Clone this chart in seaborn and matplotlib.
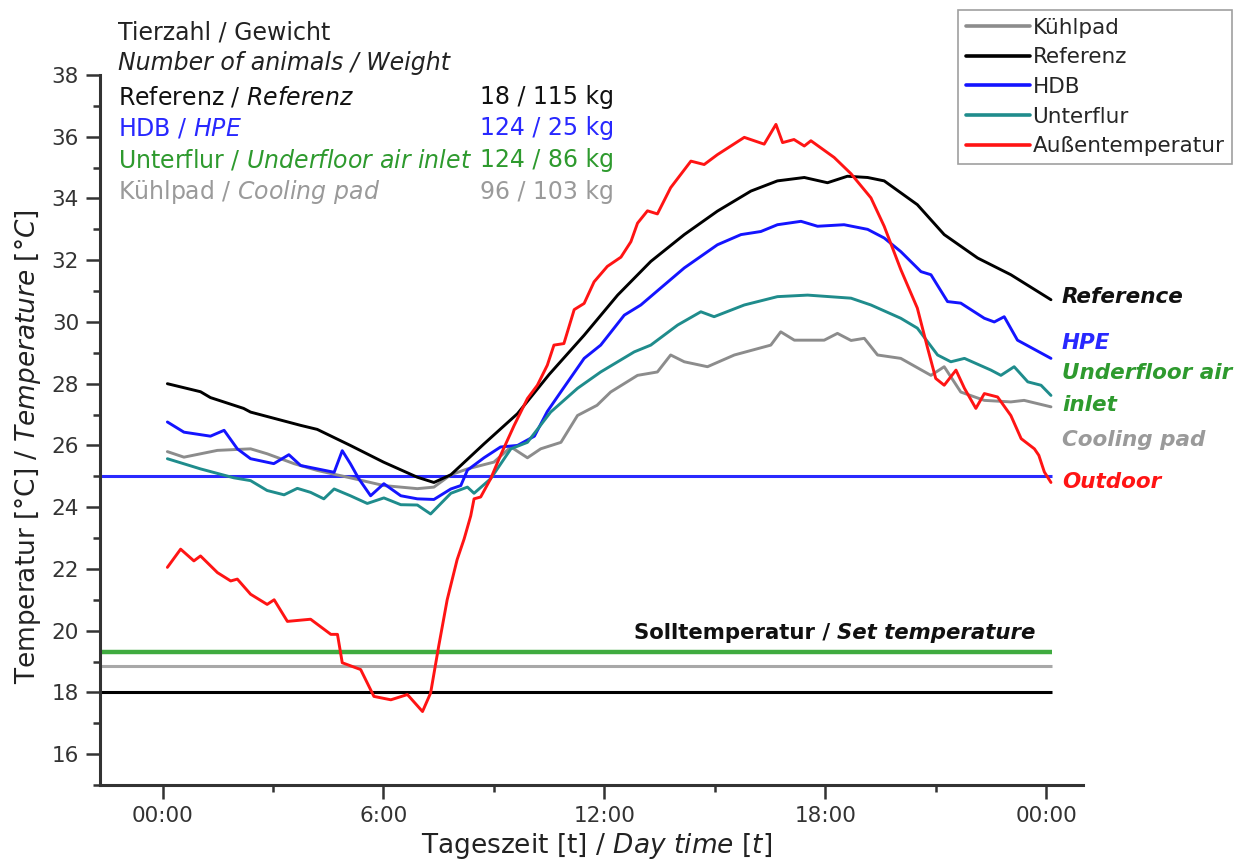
import matplotlib
matplotlib.use("Agg")
import matplotlib.pyplot as plt
from matplotlib.ticker import MultipleLocator, FixedLocator
import seaborn as sns

W, H = 1237, 863

# hours after midnight and stable temperature in degC
kuehlpad_h = [0.13, 0.58, 1.49, 2.39, 2.84, 3.57, 4.2, 5.1, 6.01, 6.92, 7.37, 7.83, 8.28, 9.0,
              9.46, 9.91, 10.27, 10.82, 11.27, 11.8, 12.17, 12.9, 13.44, 13.8, 14.17, 14.8,
              15.53, 16.52, 16.79, 17.16, 17.97, 18.33, 18.7, 19.06, 19.42, 20.05, 20.87,
              21.23, 21.68, 22.32, 23.04, 23.4, 24.13]
kuehlpad_t = [25.8, 25.62, 25.84, 25.89, 25.73, 25.41, 25.19, 24.95, 24.7, 24.6, 24.65, 25.05,
              25.24, 25.46, 25.95, 25.6, 25.89, 26.1, 26.97, 27.3, 27.73, 28.27, 28.38, 28.93,
              28.71, 28.55, 28.93, 29.25, 29.68, 29.41, 29.41, 29.63, 29.4, 29.47, 28.93,
              28.82, 28.27, 28.55, 27.73, 27.46, 27.41, 27.46, 27.25]

referenz_h = [0.13, 1.03, 1.3, 2.2, 2.39, 3.75, 4.2, 5.1, 6.0, 6.92, 7.37, 7.83, 8.73, 9.64,
              10.5, 11.45, 12.36, 13.26, 14.17, 15.07, 15.98, 16.7, 17.43, 18.06, 18.6, 19.15,
              19.6, 20.5, 21.23, 22.14, 23.04, 24.13]
referenz_t = [28.0, 27.74, 27.55, 27.2, 27.08, 26.65, 26.52, 26.0, 25.46, 24.97, 24.8, 25.05,
              26.05, 27.03, 28.3, 29.57, 30.87, 31.96, 32.83, 33.59, 34.24, 34.57, 34.68,
              34.51, 34.72, 34.68, 34.57, 33.8, 32.83, 32.07, 31.53, 30.72]

hdb_h = [0.13, 0.58, 1.3, 1.67, 2.03, 2.39, 3.02, 3.43, 3.75, 4.66, 4.88, 5.1, 5.33, 5.65,
         6.01, 6.47, 6.92, 7.37, 7.83, 8.1, 8.28, 8.73, 9.18, 9.64, 10.1, 10.45, 10.82, 11.45,
         11.9, 12.54, 12.99, 13.53, 14.17, 15.07, 15.71, 16.25, 16.7, 17.34, 17.79, 18.51,
         19.15, 19.6, 20.05, 20.6, 20.87, 21.32, 21.68, 22.32, 22.59, 22.86, 23.22, 24.13]
hdb_t = [26.76, 26.43, 26.3, 26.49, 25.89, 25.57, 25.41, 25.7, 25.35, 25.13, 25.83, 25.41,
         24.92, 24.37, 24.76, 24.37, 24.27, 24.25, 24.59, 24.7, 25.2, 25.6, 25.95, 26.0, 26.3,
         27.1, 27.74, 28.82, 29.25, 30.22, 30.55, 31.1, 31.75, 32.5, 32.83, 32.93, 33.15,
         33.26, 33.1, 33.15, 33.0, 32.72, 32.28, 31.63, 31.53, 30.66, 30.61, 30.12, 30.0,
         30.17, 29.41, 28.82]

unterflur_h = [0.13, 1.03, 1.94, 2.39, 2.84, 3.3, 3.66, 4.02, 4.38, 4.66, 5.1, 5.56, 6.01,
               6.47, 6.92, 7.28, 7.83, 8.28, 8.46, 8.91, 9.46, 9.91, 10.54, 11.27, 11.9, 12.81,
               13.26, 13.99, 14.62, 14.98, 15.8, 16.7, 17.52, 18.7, 19.24, 20.05, 20.5, 21.05,
               21.41, 21.78, 22.5, 22.77, 23.13, 23.5, 23.86, 24.13]
unterflur_t = [25.57, 25.24, 24.95, 24.86, 24.54, 24.4, 24.61, 24.48, 24.27, 24.59, 24.37,
               24.12, 24.3, 24.08, 24.07, 23.78, 24.45, 24.65, 24.45, 24.92, 25.89, 26.1, 27.08,
               27.85, 28.38, 29.03, 29.25, 29.9, 30.33, 30.17, 30.55, 30.82, 30.87, 30.77,
               30.55, 30.12, 29.8, 28.93, 28.71, 28.82, 28.44, 28.27, 28.55, 28.06, 27.95, 27.62]

aussen_h = [0.13, 0.49, 0.85, 1.03, 1.49, 1.85, 2.03, 2.39, 2.84, 3.03, 3.39, 4.02, 4.57,
            4.75, 4.88, 5.38, 5.74, 6.2, 6.65, 7.06, 7.28, 7.5, 7.73, 8.0, 8.19, 8.37, 8.46,
            8.64, 8.91, 9.18, 9.55, 9.91, 10.18, 10.45, 10.63, 10.9, 11.18, 11.45, 11.72,
            12.08, 12.45, 12.72, 12.9, 13.17, 13.44, 13.8, 14.35, 14.71, 15.07, 15.8, 16.34,
            16.66, 16.84, 17.15, 17.43, 17.61, 18.24, 18.7, 19.24, 19.6, 20.05, 20.5, 20.78,
            21.0, 21.23, 21.55, 21.78, 22.09, 22.32, 22.68, 23.04, 23.32, 23.68, 23.8, 23.95,
            24.13]
aussen_t = [22.05, 22.64, 22.26, 22.42, 21.88, 21.61, 21.67, 21.18, 20.85, 21.0, 20.3, 20.37,
            19.88, 19.88, 18.96, 18.74, 17.87, 17.76, 17.93, 17.38, 17.98, 19.5, 21.0, 22.3,
            22.97, 23.72, 24.27, 24.33, 24.92, 25.68, 26.65, 27.52, 27.95, 28.6, 29.25, 29.3,
            30.4, 30.6, 31.3, 31.8, 32.1, 32.6, 33.2, 33.6, 33.5, 34.35, 35.21, 35.1, 35.42,
            35.98, 35.76, 36.4, 35.81, 35.91, 35.7, 35.87, 35.33, 34.8, 34.02, 33.1, 31.7,
            30.45, 29.15, 28.17, 27.95, 28.44, 27.85, 27.2, 27.68, 27.57, 26.97, 26.22, 25.89,
            25.68, 25.14, 24.8]

# set temperatures: HDB, Unterflur, Kuehlpad, Referenz
setpoint_t = [25.0, 19.3, 18.85, 18.0]
setpoint_colors = ["#2a2aff", "#3fab3f", "#a8a8a8", "#000000"]

x_ticks = [0, 6, 12, 18, 24]
x_ticklabels = ["00:00", "6:00", "12:00", "18:00", "00:00"]

GRAY, BLACK, BLUE, TEAL, RED = "#8c8c8c", "#000000", "#1414ff", "#1f8c8c", "#ff1414"
GREEN_TXT, GRAY_TXT, BLUE_TXT = "#2e9a2e", "#9a9a9a", "#2828ff"

sns.set_theme(style="ticks")
plt.rcParams["font.family"] = ["DejaVu Sans"]
plt.rcParams["mathtext.fontset"] = "dejavusans"

fig = plt.figure(figsize=(W / 100, H / 100), dpi=100)
ax = fig.add_axes([100 / W, 1 - 785 / H, 983 / W, 710 / H])

x_left = -1.7
for temp, col in zip(setpoint_t, setpoint_colors):
    lw = 3.2 if col == "#3fab3f" else 2.2
    ax.hlines(temp, x_left, 24.15, color=col, linewidth=lw, zorder=1)

series = [
    (kuehlpad_h, kuehlpad_t, GRAY, "Kühlpad"),
    (referenz_h, referenz_t, BLACK, "Referenz"),
    (hdb_h, hdb_t, BLUE, "HDB"),
    (unterflur_h, unterflur_t, TEAL, "Unterflur"),
    (aussen_h, aussen_t, RED, "Außentemperatur"),
]
for hh, tt, col, lab in series:
    sns.lineplot(x=hh, y=tt, color=col, linewidth=2.1, label=lab, estimator=None, ax=ax)

ax.set_xlim(x_left, 25.0)
ax.set_ylim(15, 38)
ax.set_xticks(x_ticks)
ax.set_xticklabels(x_ticklabels)
ax.set_yticks(range(16, 39, 2))
ax.xaxis.set_minor_locator(FixedLocator([3, 9, 15, 21]))
ax.yaxis.set_minor_locator(MultipleLocator(1))
ax.tick_params(which="major", length=10, width=1.8, direction="out", labelsize=15.5,
               color="#333333", labelcolor="#333333", pad=5)
ax.tick_params(which="minor", length=5, width=1.8, direction="out", color="#333333")
for side in ["top", "right"]:
    ax.spines[side].set_visible(False)
for side in ["left", "bottom"]:
    ax.spines[side].set_linewidth(2.2)
    ax.spines[side].set_color("#333333")
ax.set_xlabel("")
ax.set_ylabel("")

leg = ax.legend(loc="upper right", bbox_to_anchor=(1232 / W, 1 - 10 / H),
                bbox_transform=fig.transFigure, fontsize=15.5, frameon=True, fancybox=False,
                edgecolor="#a0a0a0", framealpha=1, handlelength=3.0, handletextpad=0.1,
                labelspacing=0.45, borderpad=0.35, borderaxespad=0)
leg.get_frame().set_linewidth(1.2)
for line in leg.get_lines():
    line.set_linewidth(2.6)


def ftext(x_px, y_px, s, **kw):
    kw.setdefault("va", "center")
    return fig.text(x_px / W, 1 - y_px / H, s, **kw)


# axis titles
ftext(597, 846, r"Tageszeit [t] / $\mathit{Day\ time\ [t]}$", fontsize=19, ha="center",
      color="#222222")
ftext(28, 447, r"Temperatur [°C] / $\mathit{Temperature\ [°C]}$", fontsize=19,
      ha="center", rotation=90, color="#222222")

# animals / weight block
blk = 17
ftext(118, 33, "Tierzahl / Gewicht", fontsize=blk, color="#222222")
ftext(118, 63, "Number of animals / Weight", fontsize=blk, style="italic", color="#222222")
ftext(118, 97, r"Referenz / $\mathit{Referenz}$", fontsize=blk, color="#111111")
ftext(118, 128, r"HDB / $\mathit{HPE}$", fontsize=blk, color=BLUE_TXT)
ftext(118, 160, r"Unterflur / $\mathit{Underfloor\ air\ inlet}$", fontsize=blk, color=GREEN_TXT)
ftext(118, 192, r"Kühlpad / $\mathit{Cooling\ pad}$", fontsize=blk, color=GRAY_TXT)
ftext(480, 97, "18 / 115 kg", fontsize=blk, color="#111111")
ftext(480, 128, "124 / 25 kg", fontsize=blk, color=BLUE_TXT)
ftext(480, 160, "124 / 86 kg", fontsize=blk, color=GREEN_TXT)
ftext(480, 192, "96 / 103 kg", fontsize=blk, color=GRAY_TXT)

# end-of-line labels
lab = dict(fontsize=15.5, weight="bold", style="italic")
ftext(1062, 297, "Reference", color="#111111", **lab)
ftext(1062, 343, "HPE", color=BLUE_TXT, **lab)
ftext(1062, 373, "Underfloor air", color=GREEN_TXT, **lab)
ftext(1062, 405, "inlet", color=GREEN_TXT, **lab)
ftext(1062, 440, "Cooling pad", color=GRAY_TXT, **lab)
ftext(1062, 482, "Outdoor", color=RED, **lab)

# set temperature caption: bold + bold italic
renderer = fig.canvas.get_renderer()
right_part = ftext(1035, 633, "Set temperature", fontsize=15.3, weight="bold",
                   style="italic", ha="right", color="#111111")
rp_w = right_part.get_window_extent(renderer).width
ftext(1035 - rp_w - 6, 633, "Solltemperatur /", fontsize=15.3, weight="bold", ha="right",
      color="#111111")

fig.savefig("out.png", dpi=100)
